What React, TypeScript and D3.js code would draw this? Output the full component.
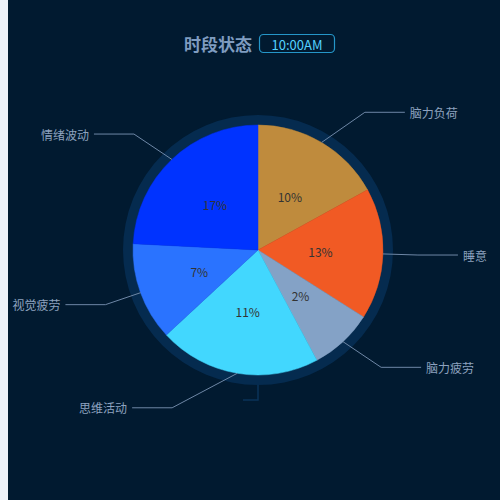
import React from "react";
import * as d3 from "d3";

// slice names, clockwise from 12 o'clock
const names = ["脑力负荷", "睡意", "脑力疲劳", "思维活动", "视觉疲劳", "情绪波动"];
// slice weights
const weights = [17, 17, 8.2, 20.9, 12.7, 24.2];
// the numbers printed inside each slice
const shown = [10, 13, 2, 11, 7, 17];
const colors = ["#bf8b3d", "#f15a24", "#84a2c6", "#42d7fe", "#2a73ff", "#0033ff"];

const titleText = "时段状态";
const timeText = "10:00AM";

interface Slice {
  name: string;
  weight: number;
  shown: number;
  color: string;
}

const slices: Slice[] = names.map((n, i) => ({
  name: n,
  weight: weights[i],
  shown: shown[i],
  color: colors[i],
}));

const App = () => {
  const width = 500,
    height = 500;
  const cx = 258,
    cy = 250;
  const r = 125;
  const ringR = 135;
  const len = 35; // first label line segment
  const len2 = 40; // horizontal segment
  const gap = 5;
  const labelR = r + len + len2 + gap;

  const pie = d3
    .pie<Slice>()
    .sort(null)
    .value((d) => d.weight)
    .startAngle(0)
    .endAngle(2 * Math.PI);
  const arcs = pie(slices);

  const arc = d3.arc<d3.PieArcDatum<Slice>>().innerRadius(0).outerRadius(r);
  const ring = d3.arc<any>().innerRadius(r).outerRadius(ringR).startAngle(0).endAngle(2 * Math.PI);

  const font = "'Noto Sans CJK SC', 'Noto Sans', sans-serif";

  // outside labels, laid out like echarts: y from the mid angle, x on a circle
  const labels = arcs.map((a) => {
    const mid = (a.startAngle + a.endAngle) / 2;
    const sx = cx + r * Math.sin(mid);
    const sy = cy - r * Math.cos(mid);
    const y = cy - (r + len) * Math.cos(mid);
    const dir = Math.sin(mid) >= 0 ? 1 : -1;
    const dy = Math.abs(y - cy);
    const tx = cx + dir * Math.sqrt(labelR * labelR - dy * dy);
    const lineEnd = tx - dir * gap;
    const elbow = lineEnd - dir * len2;
    return { a, sx, sy, y, dir, tx, lineEnd, elbow };
  });

  // ring's own (empty) label line at the bottom
  const ringLine = d3.line()([
    [cx, cy + ringR],
    [cx, cy + ringR + 15],
    [cx - 15, cy + ringR + 15],
  ]);

  return (
    <svg
      width={width}
      height={height}
      style={{ position: "absolute", left: 0, top: 0 }}
    >
      <rect x={0} y={0} width={8} height={height} fill="#eef2f8" />
      <rect x={8} y={0} width={width - 8} height={height} fill="#011a30" />

      <text
        x={252}
        y={43}
        textAnchor="end"
        dominantBaseline="central"
        fontFamily={font}
        fontSize={17}
        fontWeight="bold"
        fill="#7f9cc0"
      >
        {titleText}
      </text>
      <rect
        x={259.5}
        y={34.5}
        width={75}
        height={18}
        rx={4}
        fill="none"
        stroke="#2596c8"
        strokeWidth={1.2}
      />
      <text
        x={297}
        y={44}
        textAnchor="middle"
        dominantBaseline="central"
        fontFamily={font}
        fontSize={13}
        fill="#54d2ff"
      >
        {timeText}
      </text>

      <g transform={`translate(${cx},${cy})`}>
        <path d={ring() || ""} fill="#052b4f" />
        {arcs.map((a, i) => (
          <path
            key={i}
            d={arc(a) || ""}
            fill={a.data.color}
            stroke={a.data.color}
            strokeWidth={0.5}
          />
        ))}
        {arcs.map((a, i) => {
          const [x, y] = arc.centroid(a);
          return (
            <text
              key={i}
              x={x}
              y={y}
              textAnchor="middle"
              dominantBaseline="central"
              fontFamily={font}
              fontSize={12}
              fill="#333"
            >
              {a.data.shown + "%"}
            </text>
          );
        })}
      </g>

      <path d={ringLine || ""} fill="none" stroke="#0a3358" strokeWidth={1.5} />

      {labels.map((l, i) => (
        <g key={i}>
          <polyline
            points={`${l.sx},${l.sy} ${l.elbow},${l.y} ${l.lineEnd},${l.y}`}
            fill="none"
            stroke="#6e87a6"
            strokeWidth={1}
          />
          <text
            x={l.tx}
            y={l.y}
            textAnchor={l.dir > 0 ? "start" : "end"}
            dominantBaseline="central"
            fontFamily={font}
            fontSize={12}
            fill="#8da2bf"
          >
            {l.a.data.name}
          </text>
        </g>
      ))}
    </svg>
  );
};

export default App;
